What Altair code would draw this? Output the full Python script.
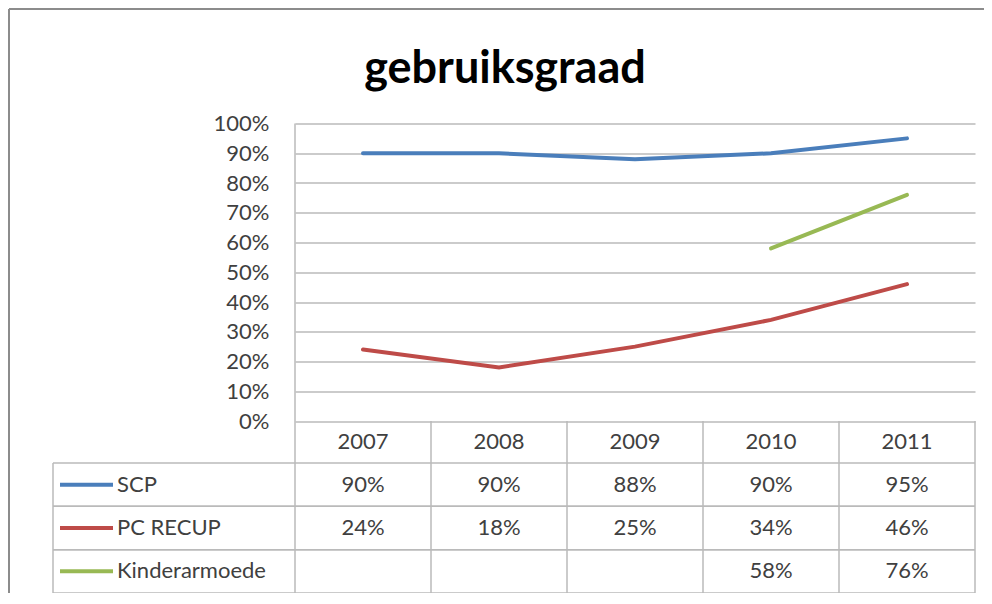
import altair as alt
import pandas as pd

# ---- data ----
years = ["2007", "2008", "2009", "2010", "2011"]
series = ["SCP", "PC RECUP", "Kinderarmoede"]
scp = [0.90, 0.90, 0.88, 0.90, 0.95]
pc_recup = [0.24, 0.18, 0.25, 0.34, 0.46]
kinderarmoede = [None, None, None, 0.58, 0.76]
colors = ["#4a7ebb", "#be4b48", "#98b954"]
y_ticks = [i / 10 for i in range(11)]
title_text = "gebruiksgraad"

rows = []
for name, vals in zip(series, [scp, pc_recup, kinderarmoede]):
    for yr, v in zip(years, vals):
        if v is not None:
            rows.append({"year": yr, "series": name, "value": v})
df = pd.DataFrame(rows)
years_df = pd.DataFrame({"year": years})
series_df = pd.DataFrame({"series": series})
one = pd.DataFrame({"k": [0]})

# ---- layout (pixels, relative to plot origin) ----
W, H = 680, 297.5
TABLE_BOTTOM = 469.5
ROW_TOP = 339.5
LABEL_LEFT = -242
GRID = "#bababa"
TXT = "#404040"
FONT = "Lato"
FS = 22

xscale = alt.Scale(type="band", domain=years, paddingInner=0, paddingOuter=0)
yscale = alt.Scale(domain=[0, 1], nice=False, zero=True)
rowscale = alt.Scale(type="band", domain=series, range=[ROW_TOP, TABLE_BOTTOM],
                     paddingInner=0, paddingOuter=0)
color = alt.Color("series:N", scale=alt.Scale(domain=series, range=colors), legend=None)

lines = alt.Chart(df).mark_line(strokeWidth=4, strokeCap="round").encode(
    x=alt.X("year:O", scale=xscale, bandPosition=0.5, axis=None),
    y=alt.Y("value:Q", scale=yscale,
            axis=alt.Axis(values=y_ticks, format=".0%", grid=True, gridColor=GRID,
                          gridWidth=1.5, domain=False, ticks=False, tickSize=0,
                          labelPadding=26, labelFont=FONT, labelFontSize=FS,
                          labelColor=TXT, title=None)),
    color=color,
)

cells = alt.Chart(df).mark_text(font=FONT, fontSize=FS, color=TXT, baseline="middle").encode(
    x=alt.X("year:O", scale=xscale, bandPosition=0.5, axis=None),
    y=alt.Y("series:N", scale=rowscale, bandPosition=0.5, axis=None),
    text=alt.Text("value:Q", format=".0%"),
)

header = alt.Chart(years_df).mark_text(font=FONT, fontSize=FS, color=TXT, baseline="middle").encode(
    x=alt.X("year:O", scale=xscale, bandPosition=0.5, axis=None),
    y=alt.value(318.5),
    text="year:N",
)

row_labels = alt.Chart(series_df).mark_text(font=FONT, fontSize=FS, color=TXT,
                                            baseline="middle", align="left").encode(
    x=alt.value(-178),
    y=alt.Y("series:N", scale=rowscale, bandPosition=0.5, axis=None),
    text="series:N",
)

swatches = alt.Chart(series_df).mark_rule(strokeWidth=4).encode(
    x=alt.value(-235), x2=alt.value(-182),
    y=alt.Y("series:N", scale=rowscale, bandPosition=0.5, axis=None),
    color=color,
)

h_top = alt.Chart(series_df).mark_rule(color=GRID, strokeWidth=1.5).encode(
    x=alt.value(LABEL_LEFT), x2=alt.value(W),
    y=alt.Y("series:N", scale=rowscale, bandPosition=0, axis=None),
)
h_bot = alt.Chart(series_df).mark_rule(color=GRID, strokeWidth=1.5).encode(
    x=alt.value(LABEL_LEFT), x2=alt.value(W),
    y=alt.Y("series:N", scale=rowscale, bandPosition=1, axis=None),
)
v_cols = alt.Chart(years_df).mark_rule(color=GRID, strokeWidth=1.5).encode(
    x=alt.X("year:O", scale=xscale, bandPosition=1, axis=None),
    y=alt.value(H), y2=alt.value(TABLE_BOTTOM),
)
v_zero = alt.Chart(one).mark_rule(color=GRID, strokeWidth=1.5).encode(
    x=alt.value(0), y=alt.value(0), y2=alt.value(TABLE_BOTTOM),
)
v_label = alt.Chart(one).mark_rule(color=GRID, strokeWidth=1.5).encode(
    x=alt.value(LABEL_LEFT), y=alt.value(ROW_TOP), y2=alt.value(TABLE_BOTTOM),
)

border_top = alt.Chart(one).mark_rule(color="#8c8c8c", strokeWidth=2).encode(
    x=alt.value(-286), x2=alt.value(W + 9), y=alt.value(-114.5),
)
border_left = alt.Chart(one).mark_rule(color="#8c8c8c", strokeWidth=2).encode(
    x=alt.value(-286), y=alt.value(-114.5), y2=alt.value(TABLE_BOTTOM),
)

title = alt.Chart(one).mark_text(text=title_text, font=FONT, fontSize=45, fontWeight="bold",
                                 color="#000000", baseline="alphabetic", align="center").encode(
    x=alt.value(210), y=alt.value(-41),
)

chart = alt.layer(
    lines, h_top, h_bot, v_cols, v_zero, v_label, cells, header, row_labels, swatches,
    border_top, border_left, title,
).resolve_scale(y="independent").properties(
    width=W, height=H,
    padding={"left": 287, "top": 115.5, "right": 9, "bottom": 172},
    autosize=alt.AutoSizeParams(type="none"),
    background="white",
).configure_view(stroke=None)

chart.save("out.html", embed_options={"renderer": "svg", "actions": False})
